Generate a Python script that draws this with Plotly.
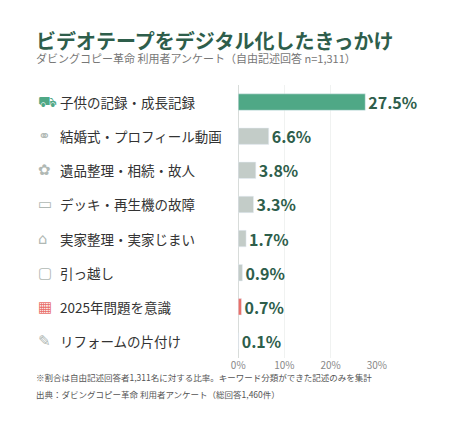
import plotly.graph_objects as go

cats = ["子供の記録・成長記録", "結婚式・プロフィール動画", "遺品整理・相続・故人", "デッキ・再生機の故障",
        "実家整理・実家じまい", "引っ越し", "2025年問題を意識", "リフォームの片付け"]
vals = [27.5, 6.6, 3.8, 3.3, 1.7, 0.9, 0.7, 0.1]
icons = ["⛟", "⚭", "✿", "▭", "⌂", "▢", "▦", "✎"]
colors = ["#4fa886"] + ["#c3ccc8"] * 5 + ["#e9706a", "#c3ccc8"]
icon_colors = ["#4fa886", "#b0b8b4", "#b0b8b4", "#b0b8b4", "#b0b8b4", "#b0b8b4", "#e9706a", "#b0b8b4"]
ticks = [0, 10, 20, 30]

W, H = 450, 422
dark = "#2e5e4b"
fig = go.Figure(go.Bar(
    y=cats, x=vals, orientation="h", marker_color=colors, width=0.48,
    text=[f"<b>{v}%</b>" for v in vals], textposition="outside", cliponaxis=False,
    textfont=dict(color=dark, size=16, family="Noto Sans CJK JP, sans-serif"),
))
y0, y1 = 77, 350
fig.update_layout(
    width=W, height=H, margin=dict(l=0, r=0, t=0, b=0),
    paper_bgcolor="white", plot_bgcolor="white", showlegend=False,
    font=dict(family="Noto Sans CJK JP, sans-serif"),
    uniformtext=dict(minsize=16, mode="show"),
    xaxis=dict(domain=[232 / W, 376 / W], range=[0, 30], tickvals=ticks,
               ticktext=[f"{t}%" for t in ticks], showgrid=True, gridcolor="#f0f2f1",
               zeroline=True, zerolinecolor="#d8dcda", zerolinewidth=1,
               tickfont=dict(size=10, color="#888"), ticks="", fixedrange=True),
    yaxis=dict(domain=[1 - y1 / H, 1 - y0 / H], autorange="reversed", showticklabels=False,
               showgrid=False, fixedrange=True),
)
for i, (c, ic) in enumerate(zip(cats, icons)):
    fig.add_annotation(x=45 / W, xref="paper", y=c, yref="y", text=c, showarrow=False,
                       xanchor="left", font=dict(size=13.5, color="#333"))
    fig.add_annotation(x=22 / W, xref="paper", y=c, yref="y", text=ic, showarrow=False,
                       font=dict(size=15, color=icon_colors[i], family="DejaVu Sans"))
fig.add_annotation(x=20 / W, y=1 - 16 / H, xref="paper", yref="paper", showarrow=False, xanchor="left",
                   text="<b>ビデオテープをデジタル化したきっかけ</b>", font=dict(size=20, color=dark))
fig.add_annotation(x=20 / W, y=1 - 40 / H, xref="paper", yref="paper", showarrow=False, xanchor="left",
                   text="ダビングコピー革命 利用者アンケート（自由記述回答 n=1,311）", font=dict(size=11, color="#777"))
fig.add_annotation(x=20 / W, y=1 - 377 / H, xref="paper", yref="paper", showarrow=False, xanchor="left",
                   text="※割合は自由記述回答者1,311名に対する比率。キーワード分類ができた記述のみを集計",
                   font=dict(size=8.5, color="#555"))
fig.add_annotation(x=20 / W, y=1 - 394 / H, xref="paper", yref="paper", showarrow=False, xanchor="left",
                   text="出典：ダビングコピー革命 利用者アンケート（総回答1,460件）",
                   font=dict(size=8.5, color="#555"))
fig.write_html("out.html")
